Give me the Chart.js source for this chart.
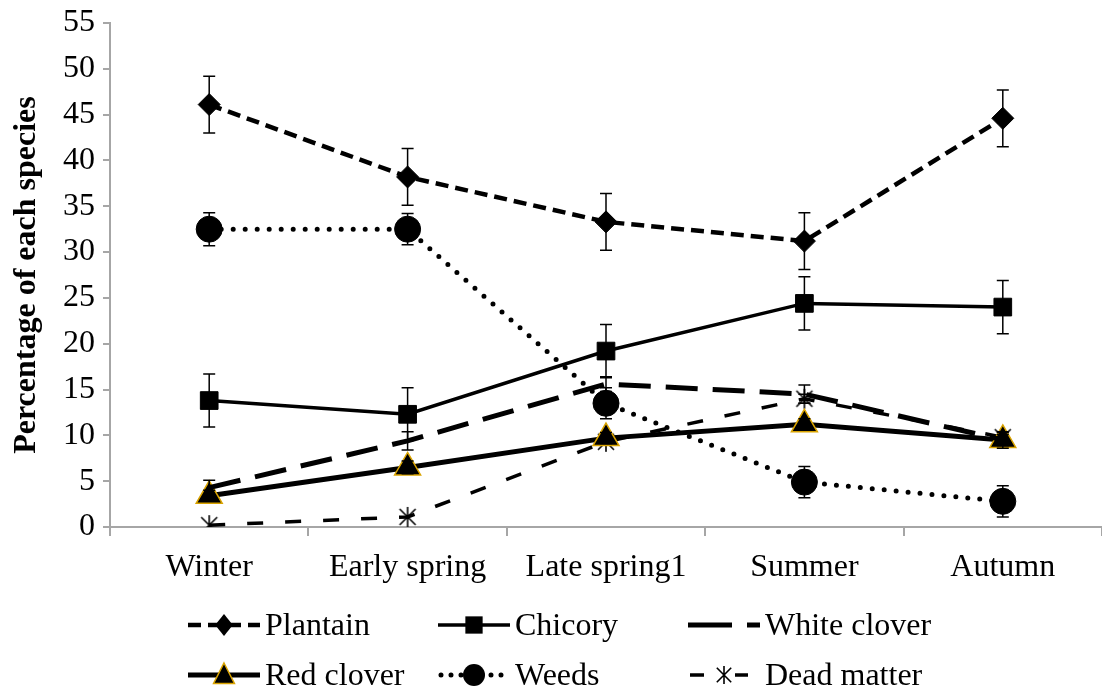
<!DOCTYPE html>
<html>
<head>
<meta charset="utf-8">
<script src="https://cdn.jsdelivr.net/npm/chart.js@4.4.1/dist/chart.umd.min.js"></script>
<style>
  html, body { margin: 0; padding: 0; background: #ffffff; }
  #wrap { width: 1102px; height: 693px; }
</style>
</head>
<body>
<div id="wrap"><canvas id="chart" width="1102" height="693"></canvas></div>
<script>
const seasons = ["Winter", "Early spring", "Late spring1", "Summer", "Autumn"];

const plantain = [46.1, 38.2, 33.3, 31.2, 44.6];
const plantainErr = [3.1, 3.1, 3.1, 3.1, 3.1];
const chicory = [13.8, 12.3, 19.2, 24.4, 24.0];
const chicoryErr = [2.9, 2.9, 2.9, 2.9, 2.9];
const whiteClover = [4.3, 9.4, 15.6, 14.5, 9.5];
const whiteCloverErr = [0.8, 1.0, 0.8, 1.0, 0.9];
const redClover = [3.4, 6.5, 9.7, 11.2, 9.5];
const redCloverErr = [0.6, 0.7, 0.6, 0.6, 0.6];
const weeds = [32.5, 32.5, 13.5, 4.9, 2.8];
const weedsErr = [1.8, 1.7, 1.7, 1.7, 1.7];
const deadMatter = [0.2, 1.1, 9.3, 14.0, 9.8];
const deadMatterErr = [0, 0, 0, 0.5, 0.5];

const yTicks = [0, 5, 10, 15, 20, 25, 30, 35, 40, 45, 50, 55];

const FONT = "'Liberation Serif', 'Times New Roman', serif";
const AXIS_GREY = "#a6a6a6";
const GOLD = "#d9a300";

// asterisk marker for dead matter (X + vertical bar)
const makeStar = function (size) {
    const c = document.createElement("canvas");
    c.width = size; c.height = size;
    const g = c.getContext("2d");
    const m = size / 2, r = size / 2 - 1;
    g.strokeStyle = "#000";
    g.lineWidth = 1.6;
    g.beginPath();
    g.moveTo(m - r * 0.8, m - r * 0.8); g.lineTo(m + r * 0.8, m + r * 0.8);
    g.moveTo(m + r * 0.8, m - r * 0.8); g.lineTo(m - r * 0.8, m + r * 0.8);
    g.moveTo(m, m - r); g.lineTo(m, m + r);
    g.stroke();
    return c;
};
const starBig = makeStar(22);
const starSmall = makeStar(20);

// error bars drawn through the scales
const errorBars = {
    id: "errorBars",
    afterDatasetsDraw(chart) {
        const ctx = chart.ctx;
        const x = chart.scales.x, y = chart.scales.y;
        ctx.save();
        ctx.strokeStyle = "#000";
        ctx.lineWidth = 1.5;
        chart.data.datasets.forEach((ds) => {
            if (!ds.err) return;
            ds.data.forEach((v, i) => {
                const e = ds.err[i];
                if (!e) return;
                const px = x.getPixelForValue(i);
                const top = y.getPixelForValue(v + e);
                const bot = y.getPixelForValue(v - e);
                ctx.beginPath();
                ctx.moveTo(px, top); ctx.lineTo(px, bot);
                ctx.moveTo(px - 6, top); ctx.lineTo(px + 6, top);
                ctx.moveTo(px - 6, bot); ctx.lineTo(px + 6, bot);
                ctx.stroke();
            });
        });
        ctx.restore();
    }
};

// legend with line sample + marker, 3 columns x 2 rows
const drawMarker = function (ctx, style, cx, cy, r, stroke) {
    ctx.save();
    ctx.fillStyle = "#000";
    ctx.setLineDash([]);
    if (style === "rectRot") {
        ctx.beginPath();
        ctx.moveTo(cx, cy - r); ctx.lineTo(cx + r * 0.8, cy); ctx.lineTo(cx, cy + r); ctx.lineTo(cx - r * 0.8, cy);
        ctx.closePath(); ctx.fill();
    } else if (style === "rect") {
        ctx.fillRect(cx - r * 0.72, cy - r * 0.72, r * 1.44, r * 1.44);
    } else if (style === "circle") {
        ctx.beginPath(); ctx.arc(cx, cy, r, 0, Math.PI * 2); ctx.fill();
    } else if (style === "triangle") {
        ctx.beginPath();
        ctx.moveTo(cx, cy - r); ctx.lineTo(cx + r * 0.87, cy + r * 0.7); ctx.lineTo(cx - r * 0.87, cy + r * 0.7);
        ctx.closePath(); ctx.fill();
        ctx.strokeStyle = stroke; ctx.lineWidth = 1.5; ctx.stroke();
    } else if (style && style.getContext) {
        ctx.drawImage(starSmall, cx - 10, cy - 10);
    }
    ctx.restore();
};

const bottomLegend = {
    id: "bottomLegend",
    afterDraw(chart) {
        const ctx = chart.ctx;
        const cols = [188, 438, 688];
        const rows = [625, 675];
        ctx.save();
        ctx.font = "32px " + FONT;
        ctx.textBaseline = "middle";
        ctx.fillStyle = "#000";
        chart.data.datasets.forEach((ds, i) => {
            const x0 = cols[i % 3], y0 = rows[Math.floor(i / 3)];
            ctx.strokeStyle = "#000";
            ctx.lineWidth = ds.borderWidth;
            ctx.lineCap = ds.borderCapStyle || "butt";
            ctx.setLineDash(ds.legendDash || []);
            ctx.beginPath();
            ctx.moveTo(x0 + (ds.legendStart || 0), y0); ctx.lineTo(x0 + (ds.legendEnd || 72), y0);
            ctx.stroke();
            if (ds.pointRadius > 0) {
                drawMarker(ctx, ds.pointStyle, x0 + 36, y0, ds.legendR, ds.pointBorderColor);
            }
            ctx.setLineDash([]);
            ctx.fillText(ds.label, x0 + 77, y0 + 2);
        });
        ctx.restore();
    }
};

const mkSet = function (label, data, err, opts) {
    return Object.assign({
        label: label,
        data: data,
        err: err,
        borderColor: "#000",
        backgroundColor: "#000",
        pointBackgroundColor: "#000",
        pointBorderColor: "#000",
        pointBorderWidth: 1,
        fill: false,
        tension: 0
    }, opts);
};

new Chart(document.getElementById("chart").getContext("2d"), {
    type: "line",
    data: {
        labels: seasons,
        datasets: [
            mkSet("Plantain", plantain, plantainErr, {
                borderWidth: 4.5, borderDash: [13, 7], legendDash: [13, 7],
                pointStyle: "rectRot", pointRadius: 11, legendR: 11
            }),
            mkSet("Chicory", chicory, chicoryErr, {
                borderWidth: 3.5,
                pointStyle: "rect", pointRadius: 12.5, legendR: 12
            }),
            mkSet("White clover", whiteClover, whiteCloverErr, {
                borderWidth: 5, borderDash: [32, 15], legendDash: [44, 15],
                pointRadius: 0, legendR: 0
            }),
            mkSet("Red clover", redClover, redCloverErr, {
                borderWidth: 5,
                pointStyle: "triangle", pointRadius: 15, pointBorderColor: GOLD,
                pointBorderWidth: 1.5, legendR: 12
            }),
            mkSet("Weeds", weeds, weedsErr, {
                borderWidth: 5, borderDash: [0, 12], borderCapStyle: "round",
                legendDash: [0, 10], legendStart: 3, legendEnd: 70,
                pointStyle: "circle", pointRadius: 13, legendR: 11
            }),
            mkSet("Dead matter", deadMatter, deadMatterErr, {
                borderWidth: 3.5, borderDash: [16, 22], legendDash: [14, 31],
                legendStart: 2, legendEnd: 60,
                pointStyle: starBig, pointRadius: 11, legendR: 10
            })
        ]
    },
    options: {
        responsive: false,
        animation: false,
        devicePixelRatio: 1,
        layout: {
            autoPadding: false,
            padding: { left: 8, right: -4, top: 23, bottom: 110 }
        },
        plugins: {
            legend: { display: false },
            tooltip: { enabled: false }
        },
        scales: {
            x: {
                offset: true,
                grid: {
                    offset: true,
                    drawOnChartArea: false,
                    tickLength: 9,
                    color: AXIS_GREY,
                    lineWidth: 2
                },
                border: { color: AXIS_GREY, width: 2 },
                ticks: {
                    color: "#000",
                    padding: 12,
                    maxRotation: 0,
                    font: { family: FONT, size: 32 }
                },
                afterFit(scale) { scale.height = 56; }
            },
            y: {
                min: 0,
                max: 55,
                afterBuildTicks(scale) {
                    scale.ticks = yTicks.map(v => ({ value: v }));
                },
                grid: {
                    drawOnChartArea: false,
                    tickLength: 7,
                    color: AXIS_GREY,
                    lineWidth: 2
                },
                border: { color: AXIS_GREY, width: 2 },
                ticks: {
                    color: "#000",
                    padding: 8,
                    font: { family: FONT, size: 32 }
                },
                title: {
                    display: true,
                    text: "Percentage of each species",
                    color: "#000",
                    padding: 0,
                    font: { family: FONT, size: 32, weight: "bold" }
                },
                afterFit(scale) {
                    scale.width = 102;
                    scale.paddingTop = 0;
                    scale.paddingBottom = 0;
                }
            }
        }
    },
    plugins: [errorBars, bottomLegend]
});
</script>
</body>
</html>
